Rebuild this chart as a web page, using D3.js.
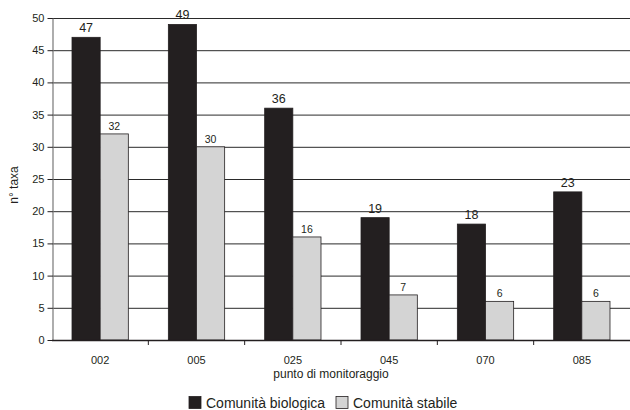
<!DOCTYPE html>
<html><head><meta charset="utf-8">
<script src="https://cdn.jsdelivr.net/npm/d3@7"></script>
<style>body{margin:0;background:#fff}svg{display:block;font-family:"Liberation Sans",Arial,sans-serif}</style>
</head><body><svg id="c" width="630" height="410"></svg>
<script>
const categories = ["002","005","025","045","070","085"];
const biologica = [47,49,36,19,18,23];
const stabile = [32,30,16,7,6,6];
const seriesNames = ["Comunità biologica","Comunità stabile"];
const yTicks = [0,5,10,15,20,25,30,35,40,45,50];

const svg = d3.select("#c");
const L = 52, R = 630, T = 18, B = 340;
const x = d3.scaleBand().domain(categories).range([L, R]).paddingInner(0).paddingOuter(0);
const y = d3.scaleLinear().domain([0,50]).range([B, T]);
const colors = ["#231f20","#d4d4d4"];

// gridlines
svg.append("g").selectAll("line").data(yTicks.filter(d=>d>0)).join("line")
  .attr("x1", L).attr("x2", R).attr("y1", d=>y(d)+0.5).attr("y2", d=>y(d)+0.5)
  .attr("stroke", "#2a2a2a").attr("stroke-width", 1);

// bars
const bw = x.bandwidth();
const pad = bw * 0.2077;
const barW = (bw - 2*pad)/2;
const data = categories.map((c,i)=>({c, v:[biologica[i], stabile[i]]}));
const g = svg.append("g");
data.forEach(d=>{
  d.v.forEach((v,k)=>{
    const x0 = x(d.c) + pad + k*barW;
    g.append("rect").attr("x", x0).attr("y", y(v)).attr("width", barW).attr("height", B - y(v))
      .attr("fill", colors[k]).attr("stroke", "#231f20").attr("stroke-width", 0.8);
    g.append("text").attr("x", x0 + barW/2).attr("y", y(v) - (k===0?5:4))
      .attr("text-anchor","middle").attr("font-size", k===0? 12.5 : 10.5).attr("fill","#231f20").text(v);
  });
});

// y axis
const yAxis = d3.axisLeft(y).tickValues(yTicks).tickSize(5).tickPadding(3).tickSizeOuter(0);
const ya = svg.append("g").attr("transform", `translate(${L+0.5},0)`).call(yAxis);
ya.selectAll("text").attr("font-size", 11).attr("fill","#231f20").attr("font-family","Liberation Sans, Arial, sans-serif");
ya.selectAll("line").attr("stroke","#231f20");
ya.select(".domain").attr("stroke","#777").attr("stroke-width",1.2);

// x axis
svg.append("line").attr("x1", L).attr("x2", R).attr("y1", B+0.5).attr("y2", B+0.5).attr("stroke","#231f20").attr("stroke-width",1.5);
svg.append("g").selectAll("line").data(categories.slice(1)).join("line")
  .attr("x1", d=>x(d)).attr("x2", d=>x(d)).attr("y1", B).attr("y2", B+5).attr("stroke","#231f20");
svg.append("g").selectAll("text").data(categories).join("text")
  .attr("x", d=>x(d)+bw/2).attr("y", 364).attr("text-anchor","middle").attr("font-size",11).attr("fill","#231f20").text(d=>d);

// axis titles
svg.append("text").attr("x", 331).attr("y", 378).attr("text-anchor","middle").attr("font-size",12).attr("fill","#231f20").text("punto di monitoraggio");
svg.append("text").attr("transform","translate(18,185) rotate(-90)").attr("text-anchor","middle").attr("font-size",12).attr("fill","#231f20").text("n° taxa");

// legend
const legX = [189, 336];
seriesNames.forEach((n,k)=>{
  svg.append("rect").attr("x", legX[k]).attr("y", 396.5).attr("width", 12).attr("height", 12)
    .attr("fill", colors[k]).attr("stroke","#231f20").attr("stroke-width",0.8);
  svg.append("text").attr("x", legX[k]+17).attr("y", 408).attr("font-size",14).attr("fill","#231f20").text(n);
});
</script></body></html>
